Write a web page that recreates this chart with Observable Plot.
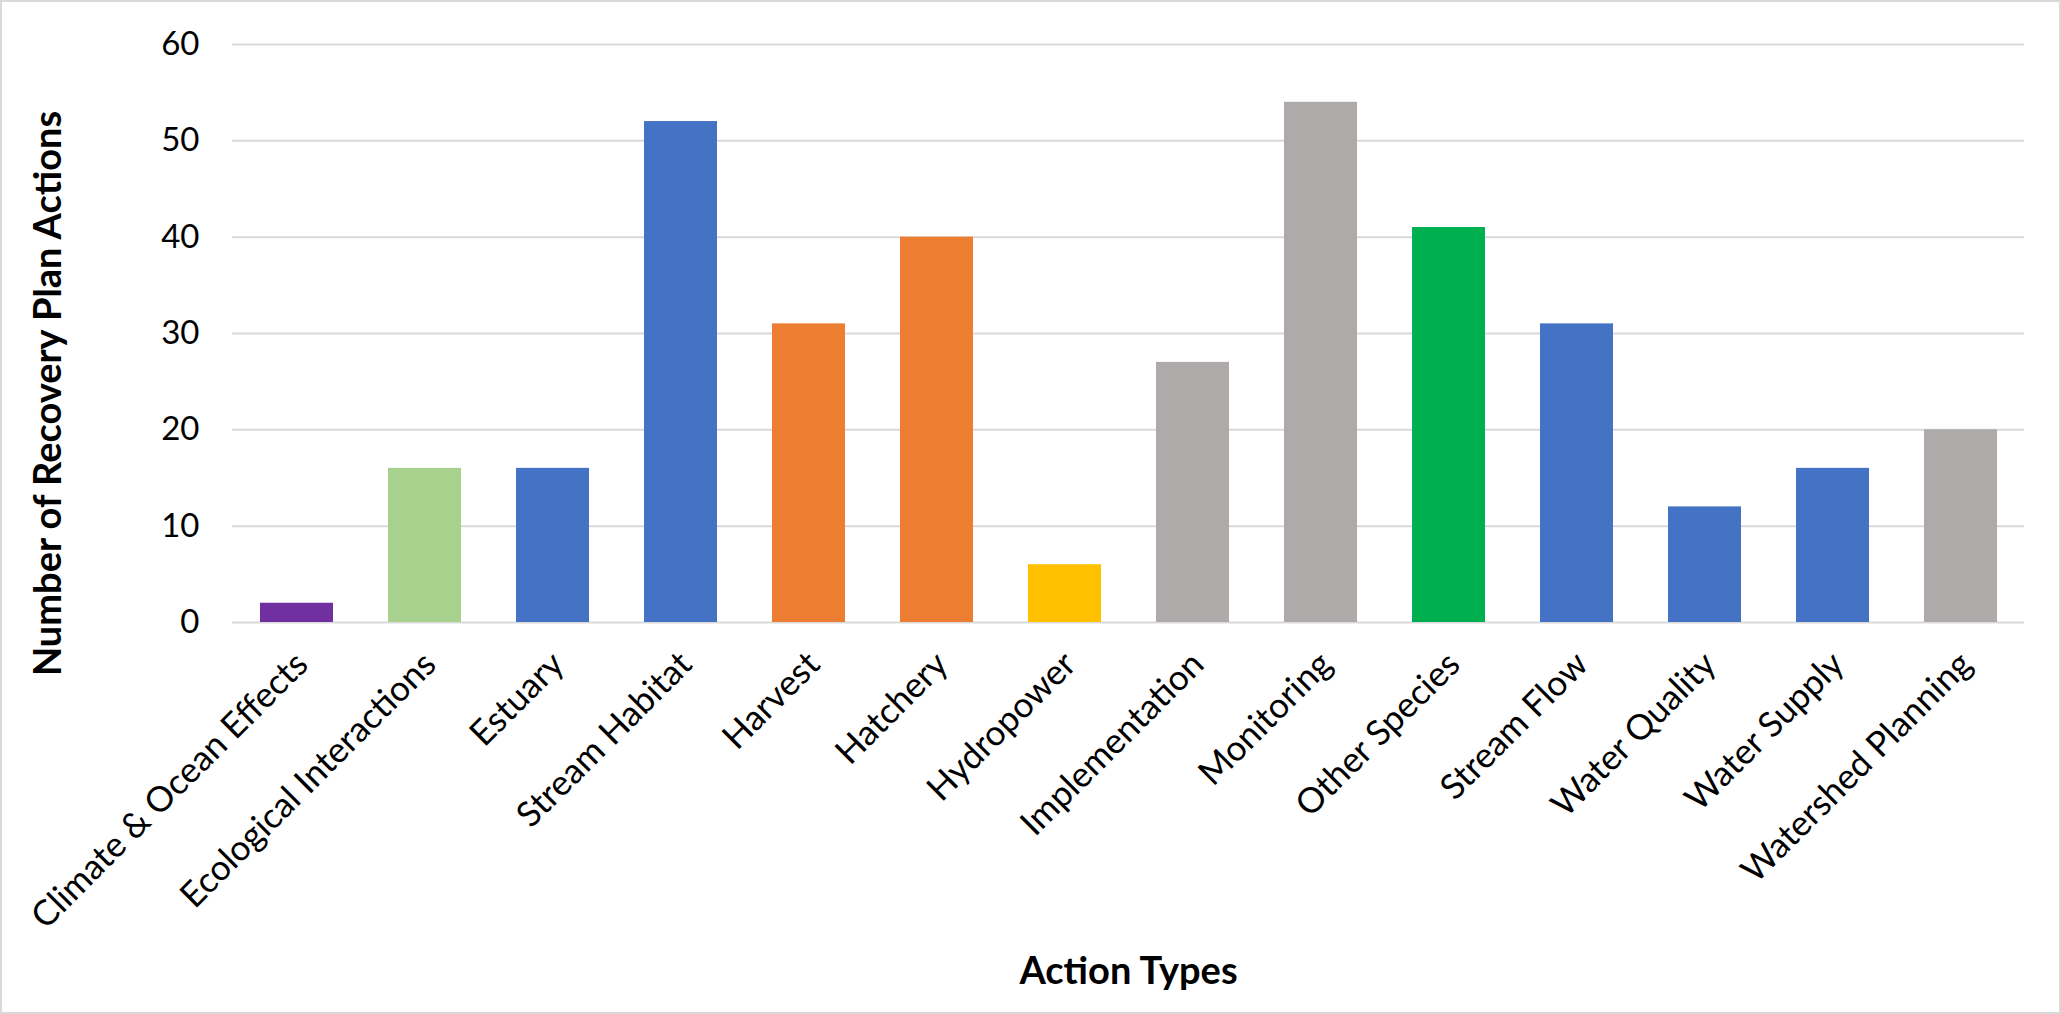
<!DOCTYPE html>
<html>
<head>
<meta charset="utf-8">
<script src="https://cdn.jsdelivr.net/npm/d3@7"></script>
<script src="https://cdn.jsdelivr.net/npm/@observablehq/plot@0.6"></script>
<style>
  html, body { margin: 0; padding: 0; background: #fff; }
  #chart svg { display: block; outline: 2px solid #d9d9d9; outline-offset: -2px; }
</style>
</head>
<body>
<div id="chart"></div>
<script>
const categories = [
  "Climate & Ocean Effects", "Ecological Interactions", "Estuary", "Stream Habitat",
  "Harvest", "Hatchery", "Hydropower", "Implementation", "Monitoring",
  "Other Species", "Stream Flow", "Water Quality", "Water Supply", "Watershed Planning"
];
const values = [2, 16, 16, 52, 31, 40, 6, 27, 54, 41, 31, 12, 16, 20];
const barColors = [
  "#7030A0", "#A9D18E", "#4472C4", "#4472C4", "#ED7D31", "#ED7D31", "#FFC000",
  "#AEAAAA", "#AEAAAA", "#00B050", "#4472C4", "#4472C4", "#4472C4", "#AEAAAA"
];
const yTicks = [0, 10, 20, 30, 40, 50, 60];
const xTitle = "Action Types";
const yTitle = "Number of Recovery Plan Actions";

const data = categories.map((c, i) => ({category: c, value: values[i]}));

const W = 2061, H = 1014;
const mL = 232, mR = 37, mT = 44, mB = 392;

const chart = Plot.plot({
  width: W,
  height: H,
  marginLeft: mL,
  marginRight: mR,
  marginTop: mT,
  marginBottom: mB,
  style: {fontFamily: "Lato, 'Open Sans', sans-serif", background: "#fff", color: "#000"},
  x: {domain: categories, paddingInner: 0.43, paddingOuter: 0.215, label: null},
  y: {domain: [0, 60], label: null},
  color: {domain: categories, range: barColors},
  marks: [
    Plot.gridY(yTicks, {stroke: "#d9d9d9", strokeOpacity: 1, strokeWidth: 2}),
    Plot.barY(data, {x: "category", y: "value", fill: "category"}),
    Plot.axisY(yTicks, {tickSize: 0, tickPadding: 33, fontSize: 33, label: null, stroke: null}),
    Plot.axisX({tickSize: 0, tickRotate: -45, tickPadding: 36, dx: 5, fontSize: 35, label: null}),
    Plot.text([xTitle], {frameAnchor: "bottom", lineAnchor: "bottom", dy: 361, fontSize: 38, fontWeight: "bold", fill: "#000"}),
    Plot.text([yTitle], {frameAnchor: "left", textAnchor: "middle", lineAnchor: "bottom", rotate: -90, dx: -172, dy: 60, fontSize: 38, fontWeight: "bold", fill: "#000"})
  ]
});
document.getElementById("chart").appendChild(chart);
</script>
</body>
</html>
